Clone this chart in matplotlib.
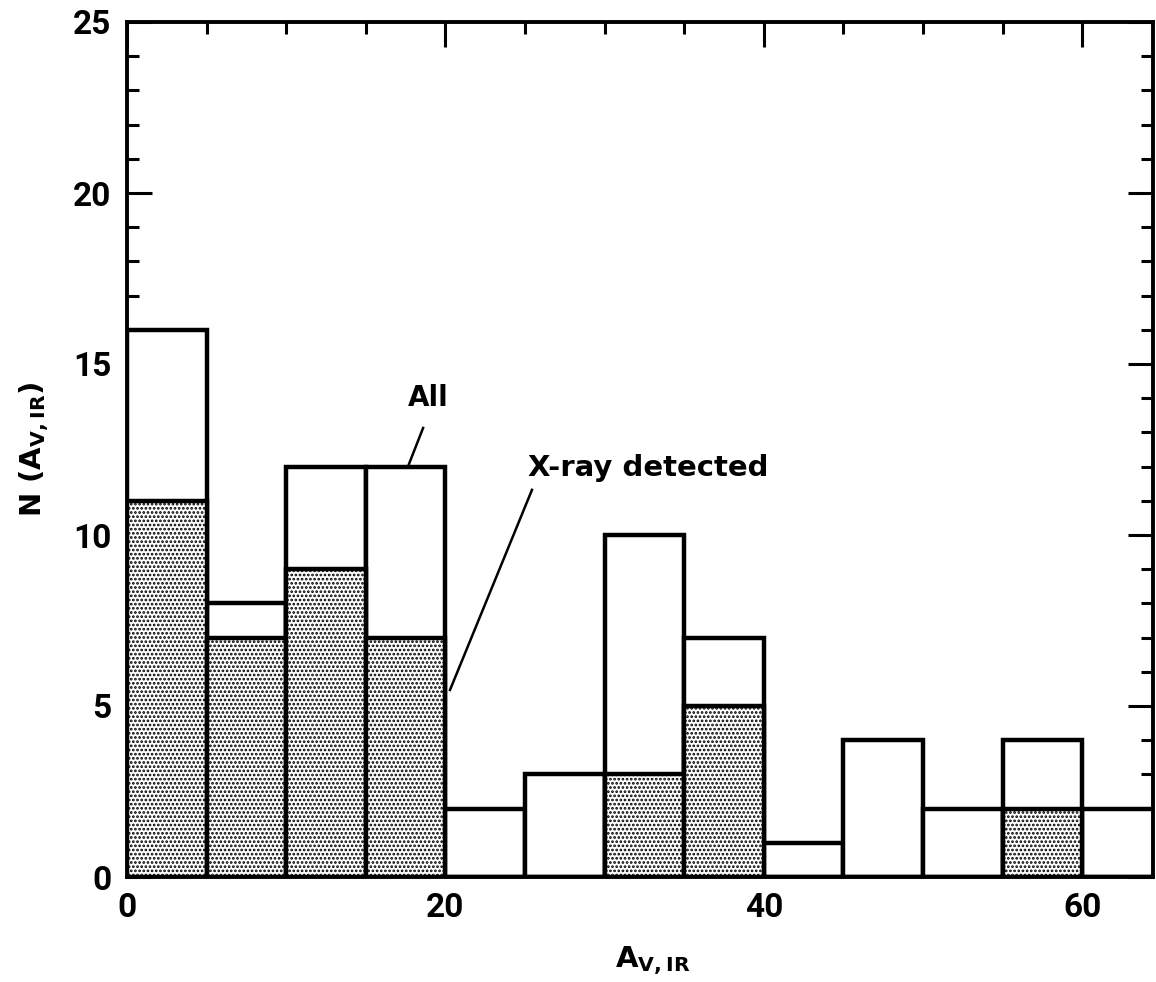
import numpy as np
import matplotlib
matplotlib.use("Agg")
import matplotlib.pyplot as plt

# histogram of A_V,IR, bins of 5 mag
bin_left = [0, 5, 10, 15, 20, 25, 30, 35, 40, 45, 50, 55, 60]
n_all = [16, 8, 12, 12, 2, 3, 10, 7, 1, 4, 2, 4, 2]
n_xray = [11, 7, 9, 7, 0, 0, 3, 5, 0, 0, 0, 2, 0]
bin_width = 5

plt.rcParams['font.family'] = ['DejaVu Sans']
plt.rcParams['font.weight'] = 'bold'
plt.rcParams['axes.labelweight'] = 'bold'
plt.rcParams['mathtext.fontset'] = 'custom'
plt.rcParams['mathtext.rm'] = 'DejaVu Sans:bold'
plt.rcParams['mathtext.bf'] = 'DejaVu Sans:bold'
plt.rcParams['mathtext.it'] = 'DejaVu Sans:bold'
plt.rcParams['hatch.linewidth'] = 1.3
plt.rcParams['hatch.color'] = 'black'

fig = plt.figure(figsize=(11.56, 9.82), dpi=100)
ax = fig.add_axes([127/1156, 1 - 877/982, (1153-127)/1156, (877-22)/982])

ax.bar(bin_left, n_all, width=bin_width, align='edge', facecolor='white',
       edgecolor='black', linewidth=3.2, zorder=2)
ax.bar(bin_left, n_xray, width=bin_width, align='edge', facecolor='white',
       edgecolor='black', linewidth=3.2, hatch='....', zorder=3)

ax.set_xlim(0, 64.45)
ax.set_ylim(0, 25)
ax.set_xticks([0, 20, 40, 60])
ax.set_xticks(np.arange(0, 65, 5), minor=True)
ax.set_yticks([0, 5, 10, 15, 20, 25])
ax.set_yticks(np.arange(0, 26, 1), minor=True)
ax.tick_params(which='both', direction='in', top=True, right=True, width=2.2,
               labelsize=24)
ax.tick_params(which='major', length=18, pad=11)
ax.tick_params(which='minor', length=8.5)
for lbl in ax.get_xticklabels() + ax.get_yticklabels():
    lbl.set_fontfamily('Roboto')
for s in ax.spines.values():
    s.set_linewidth(2.8)
    s.set_zorder(5)

ax.set_xlabel(r'$\mathbf{A_{V,IR}}$', fontsize=21)
ax.xaxis.set_label_coords(0.512, -0.078)
ax.set_ylabel(r'N ($\mathbf{A_{V,IR}}$)', fontsize=21, fontweight='bold',
              labelpad=16)

ax.plot([18.6, 17.65], [13.13, 12.0], color='black', lw=1.8, zorder=4)
ax.text(18.9, 14.0, 'All', fontsize=20, ha='center', va='center')
ax.plot([25.44, 20.29], [11.32, 5.47], color='black', lw=1.8, zorder=4)
ax.text(25.2, 11.95, 'X-ray detected', fontsize=21, ha='left', va='center')

fig.savefig('out.png', dpi=100)
